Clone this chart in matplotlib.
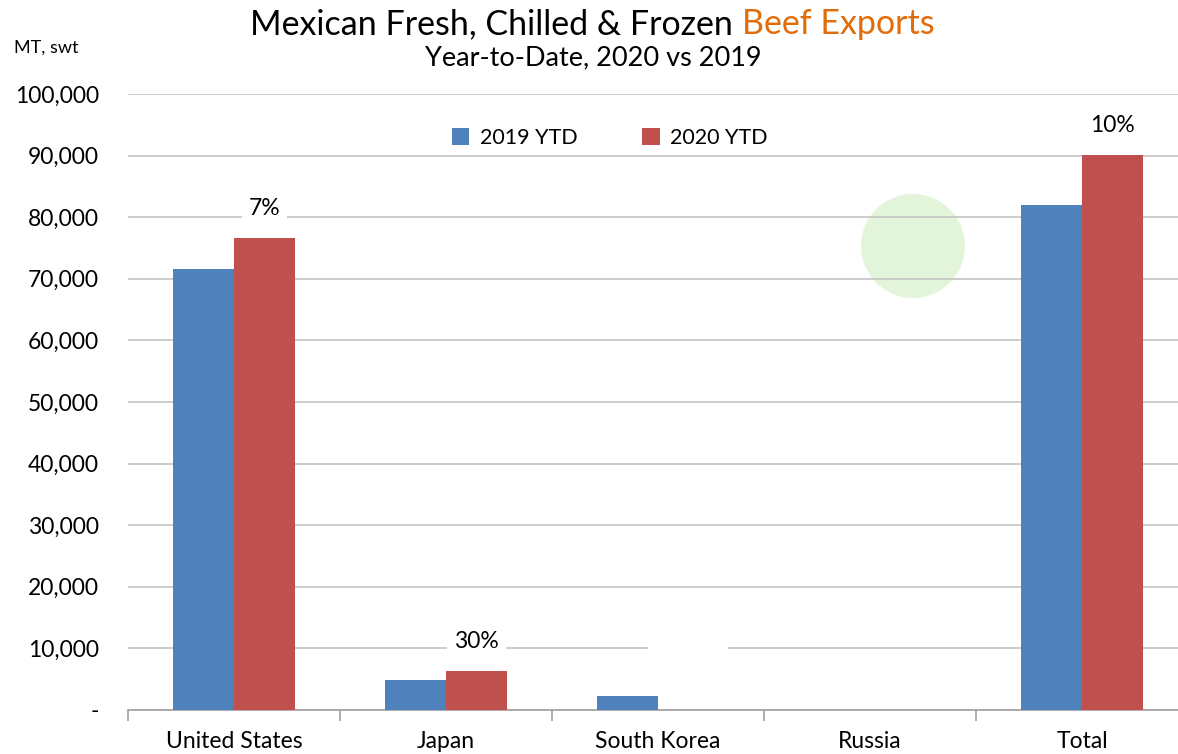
import matplotlib
matplotlib.use('Agg')
import numpy as np
import matplotlib.pyplot as plt
from matplotlib.patches import Ellipse
from matplotlib.ticker import FuncFormatter

categories = ['United States', 'Japan', 'South Korea', 'Russia', 'Total']
ytd_2019 = [71600, 4950, 2300, 0, 82000]
ytd_2020 = [76700, 6350, 0, 0, 90100]
pct_labels = ['7%', '30%', '-100%', '', '10%']
label_colors = ['black', 'black', 'white', 'white', 'black']
yticks = [0, 10000, 20000, 30000, 40000, 50000, 60000, 70000, 80000, 90000, 100000]

blue = '#4F81BD'
red = '#C0504D'
orange = '#E36C0A'

plt.rcParams['font.family'] = ['Lato', 'DejaVu Sans']
fontsize = 16.5

fig = plt.figure(figsize=(11.78, 7.54), dpi=100)
ax = fig.add_axes([128/1178, 1 - 710/754, 1060/1178, 616/754])

x = np.arange(len(categories))
w = 0.287
ax.bar(x - w/2, ytd_2019, w, color=blue, label='2019 YTD', zorder=3)
ax.bar(x + w/2, ytd_2020, w, color=red, label='2020 YTD', zorder=3)

for xi, v, txt, c in zip(x, ytd_2020, pct_labels, label_colors):
    if not txt:
        continue
    ax.annotate(txt, xy=(xi + w/2, max(v, 5000)), xytext=(0, 21), textcoords='offset points',
                ha='center', va='center', fontsize=fontsize, color=c, zorder=5,
                bbox=dict(boxstyle='square,pad=0.3', fc='white', ec='none'))

ax.set_xlim(-0.5, len(categories) - 0.5)
ax.set_ylim(0, 100000)
ax.set_yticks(yticks)
ax.yaxis.set_major_formatter(FuncFormatter(lambda v, p: '-' if v == 0 else f'{int(v):,}'))
ax.grid(axis='y', color='#C4C4C4', linewidth=1.2)
ax.set_axisbelow(True)

ax.set_xticks(x)
ax.set_xticklabels(categories)
ax.set_xticks(np.arange(-0.5, len(categories)), minor=True)
ax.tick_params(axis='x', which='major', length=0, pad=15, labelsize=fontsize)
ax.tick_params(axis='x', which='minor', length=8, color='#A0A0A0', width=1.2)
ax.tick_params(axis='y', length=0, pad=21, labelsize=fontsize)

for s in ['top', 'right', 'left']:
    ax.spines[s].set_visible(False)
ax.spines['bottom'].set_color('#A0A0A0')
ax.spines['bottom'].set_linewidth(1.2)

ax.legend(loc='center', bbox_to_anchor=(610/1178, 1 - 138/754), bbox_transform=fig.transFigure,
          ncol=2, frameon=False, fontsize=15.5, handlelength=0.8, handleheight=0.8,
          handletextpad=0.5, columnspacing=3.0)

# faint watermark globe, behind the gridlines
ax.add_patch(Ellipse((913/1178, 1 - 246/754), 104/1178, 104/754, transform=fig.transFigure,
                     facecolor='#E2F5DA', edgecolor='none', zorder=-5))

# two-colour title
t1 = fig.text(0, 1 - 24/754, 'Mexican Fresh, Chilled & Frozen ', fontsize=24.5, va='center', ha='left')
t2 = fig.text(0, 1 - 24/754, 'Beef Exports', fontsize=24.5, va='center', ha='left', color=orange)
fig.canvas.draw()
r = fig.canvas.get_renderer()
w1 = t1.get_window_extent(r).width
w2 = t2.get_window_extent(r).width
x0 = 592 - (w1 + w2) / 2
t1.set_x(x0 / 1178)
t2.set_x((x0 + w1) / 1178)
fig.text(593/1178, 1 - 58/754, 'Year-to-Date, 2020 vs 2019', fontsize=19.5, ha='center', va='center')
fig.text(46/1178, 1 - 48/754, 'MT, swt', fontsize=13, ha='center', va='center')

fig.savefig('out.png', dpi=100)
